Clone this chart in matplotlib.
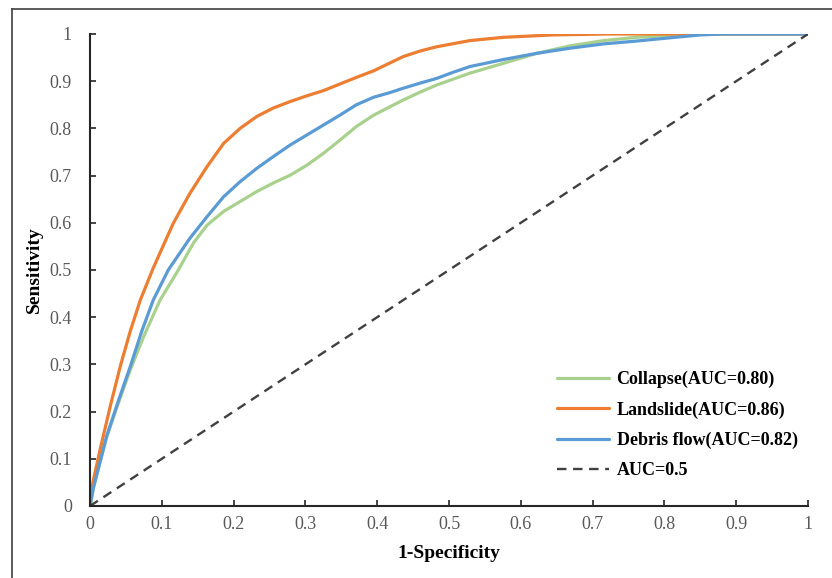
import matplotlib
matplotlib.use("Agg")
import matplotlib.pyplot as plt
from matplotlib.lines import Line2D

plt.rcParams["font.family"] = ["Liberation Serif", "DejaVu Serif"]

# ROC curve points
collapse_x = [0, 0.005, 0.023, 0.04, 0.056, 0.075, 0.0975, 0.123, 0.144, 0.163, 0.186,
              0.209, 0.232, 0.255, 0.279, 0.302, 0.325, 0.348, 0.371, 0.395, 0.418,
              0.436, 0.46, 0.483, 0.529, 0.576, 0.622, 0.669, 0.715, 0.761, 0.808,
              0.85, 1.0]
collapse_y = [0, 0.04, 0.145, 0.22, 0.288, 0.36, 0.436, 0.5, 0.557, 0.595, 0.624,
              0.645, 0.666, 0.684, 0.701, 0.722, 0.747, 0.775, 0.804, 0.828, 0.846,
              0.860, 0.877, 0.892, 0.917, 0.938, 0.959, 0.975, 0.986, 0.993, 0.997,
              1.0, 1.0]

landslide_x = [0, 0.004, 0.014, 0.028, 0.042, 0.056, 0.07, 0.088, 0.116, 0.139, 0.163,
               0.186, 0.209, 0.232, 0.255, 0.279, 0.302, 0.325, 0.348, 0.371, 0.395,
               0.436, 0.46, 0.483, 0.529, 0.576, 0.645, 0.72, 1.0]
landslide_y = [0, 0.05, 0.119, 0.21, 0.295, 0.37, 0.436, 0.504, 0.599, 0.662, 0.719,
               0.768, 0.800, 0.825, 0.843, 0.857, 0.869, 0.880, 0.894, 0.908, 0.922,
               0.952, 0.964, 0.973, 0.986, 0.993, 0.998, 1.0, 1.0]

debris_x = [0, 0.005, 0.023, 0.04, 0.056, 0.072, 0.088, 0.109, 0.139, 0.163, 0.186,
            0.209, 0.232, 0.255, 0.279, 0.302, 0.325, 0.348, 0.371, 0.395, 0.418,
            0.436, 0.46, 0.483, 0.506, 0.529, 0.576, 0.622, 0.669, 0.715, 0.761,
            0.808, 0.85, 0.88, 1.0]
debris_y = [0, 0.04, 0.147, 0.225, 0.295, 0.37, 0.436, 0.5, 0.567, 0.613, 0.655,
            0.687, 0.715, 0.740, 0.765, 0.786, 0.807, 0.828, 0.850, 0.866, 0.876,
            0.885, 0.896, 0.906, 0.919, 0.931, 0.946, 0.959, 0.970, 0.979, 0.985,
            0.992, 0.998, 1.0, 1.0]

ref_x = [0, 1]
ref_y = [0, 1]

labels = ["Collapse(AUC=0.80)", "Landslide(AUC=0.86)", "Debris flow(AUC=0.82)", "AUC=0.5"]
ticks = [0, 0.1, 0.2, 0.3, 0.4, 0.5, 0.6, 0.7, 0.8, 0.9, 1]
tick_labels = ["0", "0.1", "0.2", "0.3", "0.4", "0.5", "0.6", "0.7", "0.8", "0.9", "1"]

fig = plt.figure(figsize=(8.32, 5.78), dpi=100)
ax = fig.add_axes([90 / 832, 1 - 506 / 578, 718 / 832, 472 / 578])

# outer chart frame (only top/left edges visible in the crop)
fig.add_artist(Line2D([12 / 832, 12 / 832], [0, 1 - 9 / 578], transform=fig.transFigure,
                      color="#404040", linewidth=1.2))
fig.add_artist(Line2D([12 / 832, 1], [1 - 9 / 578, 1 - 9 / 578], transform=fig.transFigure,
                      color="#404040", linewidth=1.2))

line_kw = dict(linewidth=2.3, solid_joinstyle="round", solid_capstyle="round")
ax.plot(collapse_x, collapse_y, color="#A9D18E", label=labels[0], **line_kw)
ax.plot(landslide_x, landslide_y, color="#ED7D31", label=labels[1], **line_kw)
ax.plot(debris_x, debris_y, color="#5B9BD5", label=labels[2], **line_kw)
ax.plot(ref_x, ref_y, color="#404040", linewidth=1.7, linestyle=(0, (4, 2.8)), label=labels[3])

ax.set_xlim(0, 1)
ax.set_ylim(0, 1)
ax.set_xticks(ticks)
ax.set_xticklabels(tick_labels)
ax.set_yticks(ticks)
ax.set_yticklabels(tick_labels)

for side in ["top", "right"]:
    ax.spines[side].set_visible(False)
for side in ["left", "bottom"]:
    ax.spines[side].set_color("#262626")
    ax.spines[side].set_linewidth(1.5)

ax.tick_params(axis="both", direction="in", length=4, width=1.2, color="#262626",
               labelsize=13, labelcolor="#595959")
ax.tick_params(axis="x", pad=7)
ax.tick_params(axis="y", pad=13)

ax.set_xlabel("1-Specificity", fontsize=14, fontweight="bold", labelpad=9)
ax.set_ylabel("Sensitivity", fontsize=14, fontweight="bold", labelpad=5)

leg = ax.legend(loc="upper left", bbox_to_anchor=((557 - 90) / 718, (506 - 371) / 472),
                frameon=False, borderpad=0, borderaxespad=0,
                prop={"weight": "bold", "size": 13}, handlelength=2.9,
                handletextpad=0.4, labelspacing=0.72)

fig.savefig("out.png", dpi=100)
